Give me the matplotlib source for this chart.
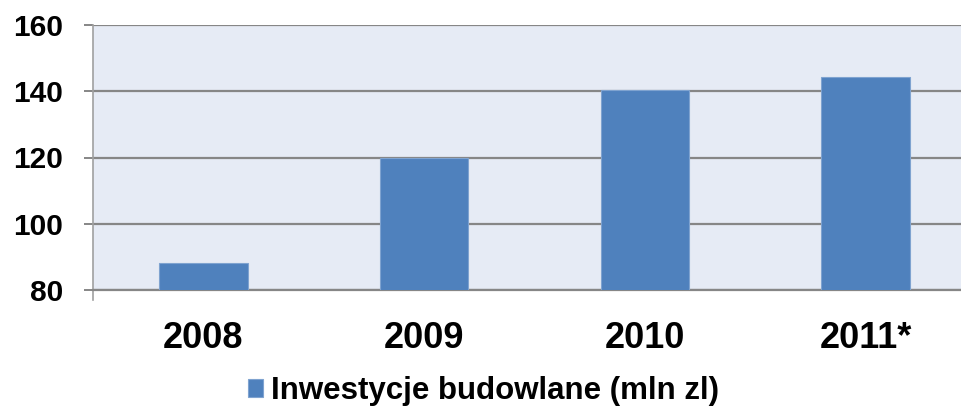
import matplotlib.pyplot as plt

# data
years = ['2008', '2009', '2010', '2011*']
values = [88.2, 120.0, 140.4, 144.3]
series_name = 'Inwestycje budowlane (mln zl)'

plt.rcParams['font.family'] = ['Liberation Sans', 'DejaVu Sans']
plt.rcParams['font.weight'] = 'bold'

fig = plt.figure(figsize=(9.61, 4.16), dpi=100)
ax = fig.add_axes([93 / 961, 1 - 290 / 416, 1 - 93 / 961, (290 - 25) / 416])
ax.set_facecolor('#E6EBF5')

x = range(len(years))
ax.bar(x, values, width=0.4, bottom=0, color='#4F81BD', edgecolor='#7FA3D0',
       linewidth=0.8, label=series_name, zorder=3)

ax.set_ylim(80, 160)
ax.set_xlim(-0.5, -0.5 + 867 / 220.5)
ax.set_yticks([80, 100, 120, 140, 160])
ax.yaxis.grid(True, color='#868686', linewidth=1.6, zorder=1)
ax.set_axisbelow(True)

ax.set_xticks(list(x))
ax.set_xticklabels(years, fontsize=26, fontweight='bold')
ax.tick_params(axis='x', length=0, pad=22)
ax.tick_params(axis='y', labelsize=21.5, length=6.5, width=1.4, color='#868686', pad=15)

for s in ['top', 'right']:
    ax.spines[s].set_visible(False)
ax.spines['bottom'].set_color('#868686')
ax.spines['bottom'].set_linewidth(1.6)
ax.spines['left'].set_color('#A0A0A0')
ax.spines['left'].set_linewidth(1.2)
ax.spines['left'].set_bounds(77, 160)

leg = fig.legend(loc='center', bbox_to_anchor=(0.503, 1 - 391 / 416), frameon=False,
                 handlelength=0.5, handleheight=0.5, handletextpad=0.25,
                 prop={'weight': 'bold', 'size': 22.5})

fig.savefig('out.png', dpi=100)
